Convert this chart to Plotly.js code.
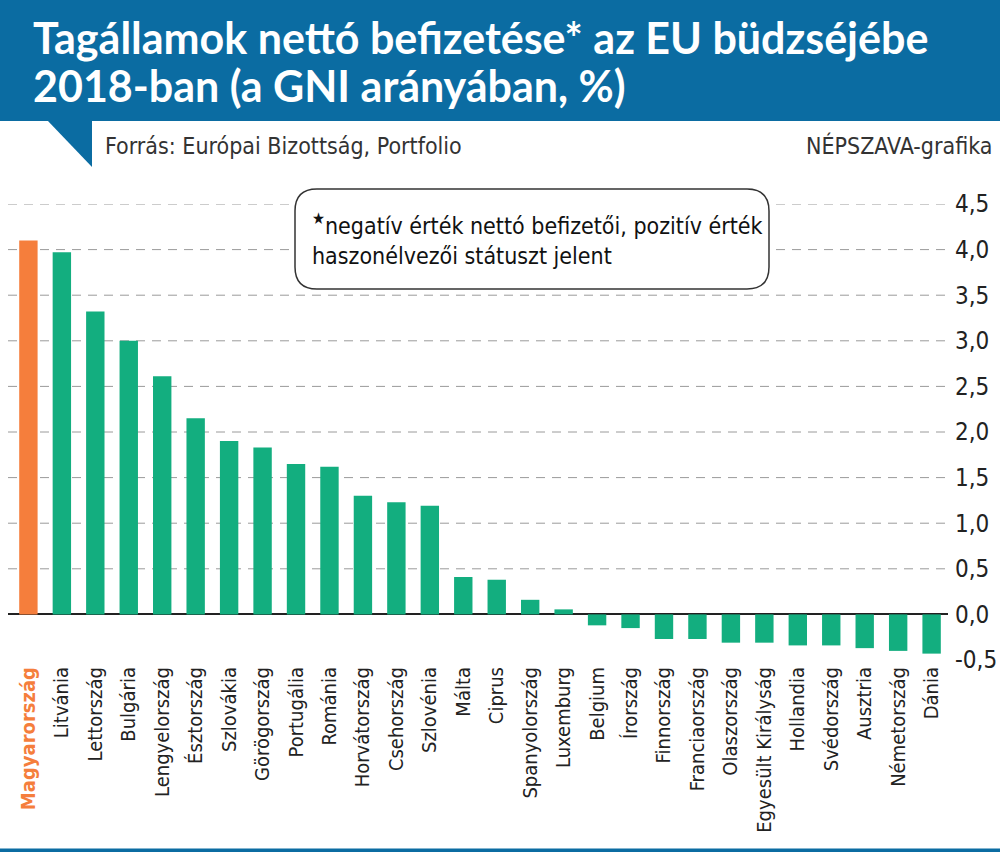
<!DOCTYPE html>
<html>
<head>
<meta charset="utf-8">
<script src="https://cdn.plot.ly/plotly-3.0.1.min.js"></script>
<style>html,body{margin:0;padding:0;background:#fff;}#chart{width:1000px;height:854px;}</style>
</head>
<body>
<div id="chart"></div>
<script>
// ---- data ----
const countries = ["Magyarország","Litvánia","Lettország","Bulgária","Lengyelország","Észtország","Szlovákia","Görögország","Portugália","Románia","Horvátország","Csehország","Szlovénia","Málta","Ciprus","Spanyolország","Luxemburg","Belgium","Írország","Finnország","Franciaország","Olaszország","Egyesült Királyság","Hollandia","Svédország","Ausztria","Németország","Dánia"];
const netBalance = [4.10,3.97,3.32,3.00,2.61,2.15,1.90,1.83,1.65,1.62,1.30,1.23,1.19,0.41,0.38,0.16,0.055,-0.12,-0.15,-0.27,-0.27,-0.31,-0.31,-0.34,-0.34,-0.37,-0.40,-0.43];
const highlight = "Magyarország";
const yTickVals = [-0.5,0,0.5,1,1.5,2,2.5,3,3.5,4,4.5];
const gridVals = [0.5,1,1.5,2,2.5,3,3.5,4,4.5];
const titleLines = ["Tagállamok nettó befizetése* az EU büdzséjébe", "2018-ban (a GNI arányában, %)"];
const sourceText = "Forrás: Európai Bizottság, Portfolio";
const creditText = "NÉPSZAVA-grafika";
const noteText = "<sup>★</sup>negatív érték nettó befizetői, pozitív érték<br>haszonélvezői státuszt jelent";

// ---- styling ----
const ORANGE = "#F57E3C", GREEN = "#13AE7F", BLUE = "#0B6CA2";
const NARROW = "Liberation Sans Narrow, DejaVu Sans Condensed, Roboto, sans-serif";
const Wd = 1000, Ht = 854, L = 8, R = 52, T = 204, B = 194;
const PW = Wd - L - R, PH = Ht - T - B;
const X = px => (px - L) / PW;
const Y = py => (Ht - B - py) / PH;

const colors = countries.map(c => c === highlight ? ORANGE : GREEN);
const tickText = countries.map(c => c === highlight ? '<b><span style="color:' + ORANGE + '">' + c + '</span></b>' : c);
const yTickText = yTickVals.map(v => v.toFixed(1).replace('.', ','));

function roundRect(x0, y0, x1, y1, r) {
  const rx = r / PW, ry = r / PH;
  const a = X(x0), b = X(x1), top = Y(y0), bot = Y(y1);
  return `M ${a+rx},${top} L ${b-rx},${top} Q ${b},${top} ${b},${top-ry} L ${b},${bot+ry} Q ${b},${bot} ${b-rx},${bot} L ${a+rx},${bot} Q ${a},${bot} ${a},${bot+ry} L ${a},${top-ry} Q ${a},${top} ${a+rx},${top} Z`;
}

const shapes = [
  {type:'rect', xref:'paper', yref:'paper', x0:X(0), x1:X(1000), y0:Y(121), y1:Y(0), fillcolor:BLUE, line:{width:0}, layer:'below'},
  {type:'path', xref:'paper', yref:'paper', path:`M ${X(47)},${Y(120)} L ${X(92)},${Y(120)} L ${X(92)},${Y(167)} Z`, fillcolor:BLUE, line:{width:0}, layer:'below'},
  {type:'rect', xref:'paper', yref:'paper', x0:X(0), x1:X(1000), y0:Y(852), y1:Y(848.5), fillcolor:BLUE, line:{width:0}, layer:'above'},
  {type:'path', xref:'paper', yref:'paper', path:roundRect(295,189,769,289,22), fillcolor:'#fff', line:{color:'#333', width:1.5}, layer:'above'}
];
gridVals.forEach(v => shapes.push({type:'line', xref:'paper', yref:'y', x0:0, x1:1, y0:v, y1:v, line:{color:'#9a9a9a', width:1, dash:'9px,7px'}, layer:'below'}));

const data = [{
  type:'bar', x:countries, y:netBalance, marker:{color:colors, line:{width:0}}, hoverinfo:'x+y'
}];

const TITLEFONT = {family:'Lato, Open Sans, sans-serif', size:43, color:'#fff', weight:'bold'};

const layout = {
  width:Wd, height:Ht,
  margin:{l:L, r:R, t:T, b:B, pad:0},
  paper_bgcolor:'#fff', plot_bgcolor:'rgba(0,0,0,0)',
  showlegend:false,
  bargap:0.45,
  xaxis:{type:'category', range:[-0.61,27.49], tickangle:-90, tickmode:'array', tickvals:countries, ticktext:tickText, tickfont:{family:NARROW, size:20, color:'#222'}, showgrid:false, zeroline:false, showline:false, ticks:'', ticklabelstandoff:2, fixedrange:true},
  yaxis:{range:[-0.5,4.5], side:'right', tickmode:'array', tickvals:yTickVals, ticktext:yTickText, tickfont:{family:NARROW, size:24, color:'#222'}, showgrid:false, zeroline:true, zerolinecolor:'#222', zerolinewidth:2, showline:false, ticks:'', ticklabelstandoff:6, fixedrange:true},
  shapes:shapes,
  annotations:[
    {xref:'paper', yref:'paper', x:X(31), y:Y(37), xanchor:'left', yanchor:'middle', text:'<b>' + titleLines[0] + '</b>', showarrow:false, font:TITLEFONT},
    {xref:'paper', yref:'paper', x:X(31), y:Y(86), xanchor:'left', yanchor:'middle', text:'<b>' + titleLines[1] + '</b>', showarrow:false, font:TITLEFONT},
    {xref:'paper', yref:'paper', x:X(103), y:Y(146), xanchor:'left', yanchor:'middle', text:sourceText, showarrow:false, font:{family:NARROW, size:23, color:'#333'}},
    {xref:'paper', yref:'paper', x:X(994), y:Y(146), xanchor:'right', yanchor:'middle', text:creditText, showarrow:false, font:{family:NARROW, size:23, color:'#333'}},
    {xref:'paper', yref:'paper', x:X(310), y:Y(239), xanchor:'left', yanchor:'middle', align:'left', text:noteText, showarrow:false, font:{family:NARROW, size:23, color:'#111'}}
  ]
};

Plotly.newPlot('chart', data, layout, {displayModeBar:false, staticPlot:true});
</script>
</body>
</html>
